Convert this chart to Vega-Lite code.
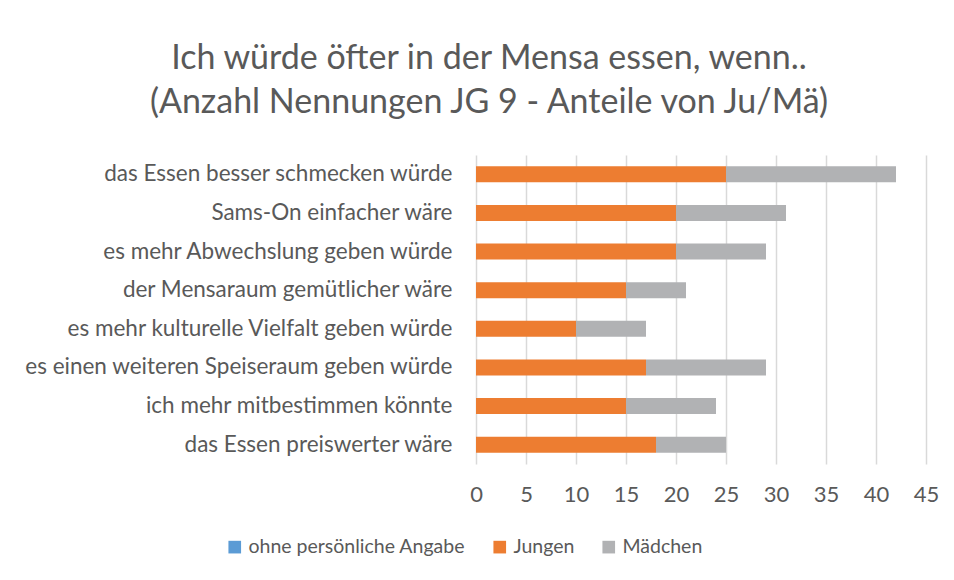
{
  "$schema": "https://vega.github.io/schema/vega-lite/v6.json",
  "width": 450,
  "height": 309,
  "autosize": {"type": "none"},
  "padding": {"left": 476, "top": 155, "right": 28, "bottom": 116},
  "background": "white",
  "title": {
    "text": ["Ich würde öfter in der Mensa essen, wenn..", "(Anzahl Nennungen JG 9 - Anteile von Ju/Mä)"],
    "fontSize": 34,
    "font": "Lato",
    "fontWeight": "normal",
    "color": "#595959",
    "lineHeight": 44,
    "frame": "group",
    "anchor": "middle",
    "dx": -212,
    "offset": 35
  },
  "data": {
    "values": [
      {"Grund": "das Essen besser schmecken würde", "Gruppe": "ohne persönliche Angabe", "Anzahl": 0, "ord": 1},
      {"Grund": "das Essen besser schmecken würde", "Gruppe": "Jungen", "Anzahl": 25, "ord": 2},
      {"Grund": "das Essen besser schmecken würde", "Gruppe": "Mädchen", "Anzahl": 17, "ord": 3},
      {"Grund": "Sams-On einfacher wäre", "Gruppe": "ohne persönliche Angabe", "Anzahl": 0, "ord": 1},
      {"Grund": "Sams-On einfacher wäre", "Gruppe": "Jungen", "Anzahl": 20, "ord": 2},
      {"Grund": "Sams-On einfacher wäre", "Gruppe": "Mädchen", "Anzahl": 11, "ord": 3},
      {"Grund": "es mehr Abwechslung geben würde", "Gruppe": "ohne persönliche Angabe", "Anzahl": 0, "ord": 1},
      {"Grund": "es mehr Abwechslung geben würde", "Gruppe": "Jungen", "Anzahl": 20, "ord": 2},
      {"Grund": "es mehr Abwechslung geben würde", "Gruppe": "Mädchen", "Anzahl": 9, "ord": 3},
      {"Grund": "der Mensaraum gemütlicher wäre", "Gruppe": "ohne persönliche Angabe", "Anzahl": 0, "ord": 1},
      {"Grund": "der Mensaraum gemütlicher wäre", "Gruppe": "Jungen", "Anzahl": 15, "ord": 2},
      {"Grund": "der Mensaraum gemütlicher wäre", "Gruppe": "Mädchen", "Anzahl": 6, "ord": 3},
      {"Grund": "es mehr kulturelle Vielfalt geben würde", "Gruppe": "ohne persönliche Angabe", "Anzahl": 0, "ord": 1},
      {"Grund": "es mehr kulturelle Vielfalt geben würde", "Gruppe": "Jungen", "Anzahl": 10, "ord": 2},
      {"Grund": "es mehr kulturelle Vielfalt geben würde", "Gruppe": "Mädchen", "Anzahl": 7, "ord": 3},
      {"Grund": "es einen weiteren Speiseraum geben würde", "Gruppe": "ohne persönliche Angabe", "Anzahl": 0, "ord": 1},
      {"Grund": "es einen weiteren Speiseraum geben würde", "Gruppe": "Jungen", "Anzahl": 17, "ord": 2},
      {"Grund": "es einen weiteren Speiseraum geben würde", "Gruppe": "Mädchen", "Anzahl": 12, "ord": 3},
      {"Grund": "ich mehr mitbestimmen könnte", "Gruppe": "ohne persönliche Angabe", "Anzahl": 0, "ord": 1},
      {"Grund": "ich mehr mitbestimmen könnte", "Gruppe": "Jungen", "Anzahl": 15, "ord": 2},
      {"Grund": "ich mehr mitbestimmen könnte", "Gruppe": "Mädchen", "Anzahl": 9, "ord": 3},
      {"Grund": "das Essen preiswerter wäre", "Gruppe": "ohne persönliche Angabe", "Anzahl": 0, "ord": 1},
      {"Grund": "das Essen preiswerter wäre", "Gruppe": "Jungen", "Anzahl": 18, "ord": 2},
      {"Grund": "das Essen preiswerter wäre", "Gruppe": "Mädchen", "Anzahl": 7, "ord": 3}
    ]
  },
  "mark": {"type": "bar", "size": 16},
  "encoding": {
    "y": {
      "field": "Grund",
      "type": "nominal",
      "sort": null,
      "title": null,
      "axis": {
        "domain": false,
        "ticks": false,
        "labelPadding": 24,
        "labelFont": "Lato",
        "labelFontSize": 22.5,
        "labelColor": "#595959",
        "labelLimit": 600
      }
    },
    "x": {
      "field": "Anzahl",
      "type": "quantitative",
      "stack": "zero",
      "scale": {"domain": [0, 45], "nice": false},
      "title": null,
      "axis": {
        "values": [0, 5, 10, 15, 20, 25, 30, 35, 40, 45],
        "domain": false,
        "ticks": false,
        "labelFlush": false,
        "labelOverlap": false,
        "labelPadding": 20,
        "labelFont": "Lato",
        "labelFontSize": 22,
        "labelColor": "#595959",
        "gridColor": "#d9d9d9",
        "gridWidth": 1.5
      }
    },
    "color": {
      "field": "Gruppe",
      "type": "nominal",
      "scale": {
        "domain": ["ohne persönliche Angabe", "Jungen", "Mädchen"],
        "range": ["#5b9bd5", "#ed7d31", "#b1b2b4"]
      },
      "legend": {
        "title": null,
        "orient": "none",
        "legendX": -251,
        "legendY": 382,
        "direction": "horizontal",
        "symbolType": "square",
        "symbolSize": 160,
        "symbolStrokeWidth": 0,
        "labelFont": "Lato",
        "labelFontSize": 19.5,
        "labelColor": "#595959",
        "labelOffset": 4,
        "labelLimit": 400,
        "columnPadding": 24
      }
    },
    "order": {"field": "ord", "type": "quantitative"}
  },
  "config": {"view": {"stroke": null}}
}
